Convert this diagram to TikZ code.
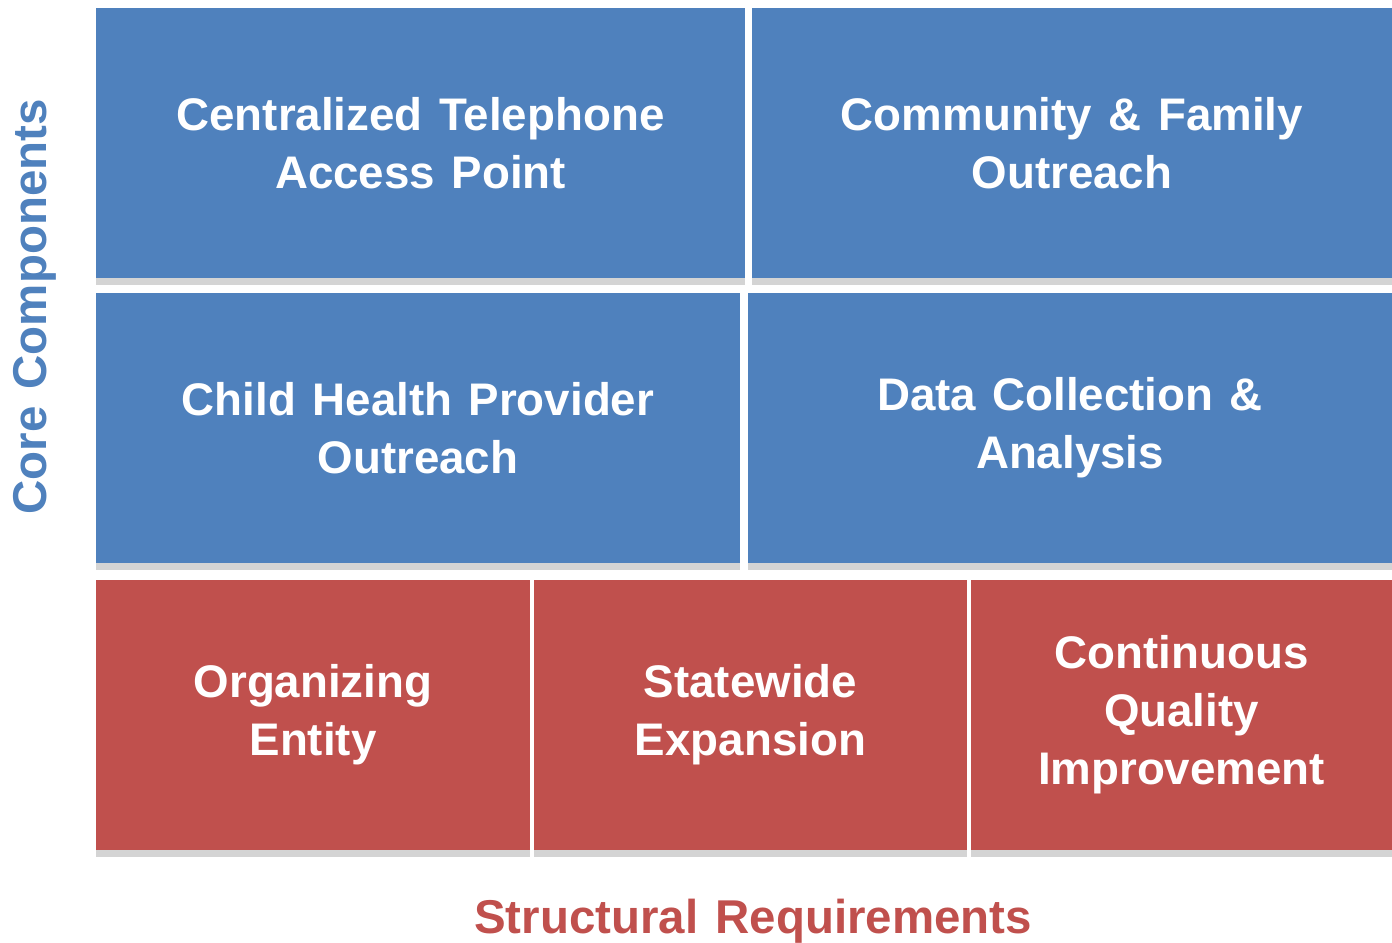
\documentclass[tikz,border=0pt]{standalone}
\usepackage{fontspec}
\setmainfont[WordSpace=1.3]{Liberation Sans}
\usepackage{tikz}
\definecolor{coreblue}{HTML}{4F81BD}
\definecolor{structred}{HTML}{C0504D}
\definecolor{shadowgray}{HTML}{D4D4D4}
\tikzset{
  cell/.style={inner sep=0pt, align=center, text=white,
    font=\fontsize{26}{33}\selectfont\bfseries},
  corecell/.style={cell, fill=coreblue},
  structcell/.style={cell, fill=structred},
  axislabel/.style={font=\fontsize{27}{30}\selectfont\bfseries}
}

\begin{document}
\begin{tikzpicture}
    \useasboundingbox (0,0) rectangle (27.84,-18.86);

    % height of one row of cells
    \def\rowh{5.4cm}

    % core components
    \node[corecell, minimum width=12.98cm, minimum height=\rowh] (ctap) at (8.41,-2.86) {Centralized Telephone\\Access Point};
    \node[corecell, minimum width=12.80cm, minimum height=\rowh] (cfo)  at (21.44,-2.86) {Community \& Family\\Outreach};
    \node[corecell, minimum width=12.88cm, minimum height=\rowh] (chpo) at (8.36,-8.56) {Child Health Provider\\Outreach};
    \node[corecell, minimum width=12.88cm, minimum height=\rowh] (dca)  at (21.40,-8.56) {Data Collection \&\\Analysis};

    % structural requirements
    \node[structcell, minimum width=8.68cm, minimum height=\rowh] (oe)  at (6.26,-14.30) {Organizing\\Entity};
    \node[structcell, minimum width=8.66cm, minimum height=\rowh] (se)  at (15.01,-14.30) {Statewide\\Expansion};
    \node[structcell, minimum width=8.42cm, minimum height=\rowh] (cqi) at (23.63,-14.30) {Continuous\\Quality\\Improvement};

    % gray strip under every cell
    \foreach \n in {ctap,cfo,chpo,dca,oe,se,cqi}
        \fill[shadowgray] (\n.south west) rectangle ([yshift=-0.14cm]\n.south east);

    % axis labels
    \node[axislabel, text=coreblue, rotate=90] (core) at (0.70,-6.14) {Core Components};
    \node[axislabel, text=structred] (struct) at (15.06,-18.42) {Structural Requirements};
\end{tikzpicture}
\end{document}
